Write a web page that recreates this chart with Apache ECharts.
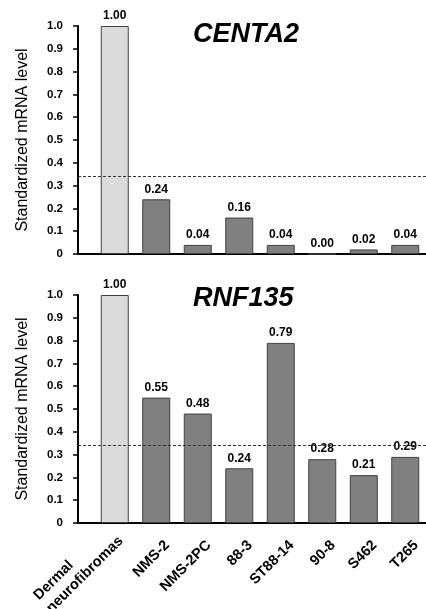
<!DOCTYPE html>
<html><head><meta charset="utf-8">
<script src="https://cdn.jsdelivr.net/npm/echarts@6/dist/echarts.min.js"></script>
<style>html,body{margin:0;padding:0;background:#fff}#c{width:426px;height:609px}</style>
</head><body><div id="c"></div>
<script>
const categories = ['Dermal\nneurofibromas', 'NMS-2', 'NMS-2PC', '88-3', 'ST88-14', '90-8', 'S462', 'T265'];
const centa2 = [1.00, 0.24, 0.04, 0.16, 0.04, 0.00, 0.02, 0.04];
const rnf135 = [1.00, 0.55, 0.48, 0.24, 0.79, 0.28, 0.21, 0.29];
const yTicks = ['0', '0.1', '0.2', '0.3', '0.4', '0.5', '0.6', '0.7', '0.8', '0.9', '1.0'];
const threshold = 0.34;
const titles = ['CENTA2', 'RNF135'];
const yName = 'Standardized mRNA level';

const FONT = '"Liberation Sans", Arial, Helvetica, sans-serif';
const CAT_SIZE = 14.5;
const cv = document.createElement('canvas').getContext('2d');
cv.font = 'bold ' + CAT_SIZE + 'px "Liberation Sans", Arial, sans-serif';
const multiW = Math.ceil(Math.max(...categories.flatMap(s => s.split('\n').map(t => cv.measureText(t).width))));

const chart = echarts.init(document.getElementById('c'), null, {renderer: 'canvas'});

const panels = [
  {values: centa2, title: titles[0], top: 26, bottom: 355, showX: false, titleTop: 16},
  {values: rnf135, title: titles[1], top: 295, bottom: 86, showX: true, titleTop: 280}
];

const catStyle = {fontWeight: 'bold', fontSize: CAT_SIZE, fontFamily: FONT, color: '#000'};
const grid = [], xAxis = [], yAxis = [], series = [], title = [];
panels.forEach((p, k) => {
  const gf = k * 2, gd = k * 2 + 1;
  grid.push({left: 78, right: 0, top: p.top, bottom: p.bottom, containLabel: false, outerBoundsMode: 'none'});
  grid.push({left: 94, right: 0, top: p.top, bottom: p.bottom, containLabel: false, outerBoundsMode: 'none'});
  xAxis.push({gridIndex: gf, type: 'value', min: 0, max: 1,
    axisLine: {show: true, onZero: false, lineStyle: {color: '#000', width: 2}},
    axisTick: {show: false}, axisLabel: {show: false}, splitLine: {show: false}});
  xAxis.push({gridIndex: gd, type: 'category', data: categories,
    axisLine: {show: false}, axisTick: {show: false},
    axisLabel: {show: p.showX, interval: 0, rotate: 45, margin: 9, color: '#000',
      fontWeight: 'bold', fontSize: CAT_SIZE, fontFamily: FONT,
      formatter: v => v.indexOf('\n') >= 0
        ? v.split('\n').map(t => '{m|' + t + '}').join('\n')
        : '{s|' + v + '}',
      rich: {
        m: Object.assign({width: multiW, align: 'left', lineHeight: 18}, catStyle),
        s: Object.assign({lineHeight: 17, padding: [31, 0, 0, 0]}, catStyle)
      }
    }});
  yAxis.push({gridIndex: gf, type: 'value', min: 0, max: 1, interval: 0.1,
    axisLine: {show: true, onZero: false, lineStyle: {color: '#000', width: 2}},
    axisTick: {show: true, inside: false, length: 5, lineStyle: {color: '#000', width: 1.5}},
    axisLabel: {color: '#000', fontWeight: 'bold', fontSize: 11.5, fontFamily: FONT, margin: 15,
      formatter: v => yTicks[Math.round(v * 10)]},
    splitLine: {show: false},
    name: yName, nameLocation: 'middle', nameGap: 47,
    nameTextStyle: {fontSize: 16, color: '#000', fontFamily: FONT}});
  yAxis.push({gridIndex: gd, type: 'value', min: 0, max: 1, show: false});

  const lbl = {show: true, position: 'top', distance: 4, color: '#000', fontWeight: 'bold',
    fontSize: 12, fontFamily: FONT, formatter: d => Number(d.value).toFixed(2)};
  series.push({type: 'bar', xAxisIndex: gd, yAxisIndex: gd, barWidth: 28, barGap: '-100%', z: 1,
    data: p.values.map((v, i) => i === 0 ? v : '-'),
    itemStyle: {color: '#dadada', borderColor: '#404040', borderWidth: 1}, label: lbl});
  series.push({type: 'bar', xAxisIndex: gd, yAxisIndex: gd, barWidth: 28, barGap: '-100%', z: 3,
    data: p.values.map((v, i) => i === 0 ? '-' : v),
    itemStyle: {color: '#808080', borderColor: '#404040', borderWidth: 1}, label: lbl});
  series.push({type: 'line', xAxisIndex: gf, yAxisIndex: gf, data: [], z: 2,
    markLine: {silent: true, symbol: 'none', label: {show: false},
      lineStyle: {type: [3, 2], color: '#333', width: 1},
      data: [{yAxis: threshold}]}});
  title.push({text: p.title, left: 188, top: p.titleTop,
    textStyle: {fontSize: 27, fontWeight: 'bold', fontStyle: 'italic', color: '#000', fontFamily: FONT}});
});

chart.setOption({animation: false, backgroundColor: '#fff', title, grid, xAxis, yAxis, series});
</script></body></html>
